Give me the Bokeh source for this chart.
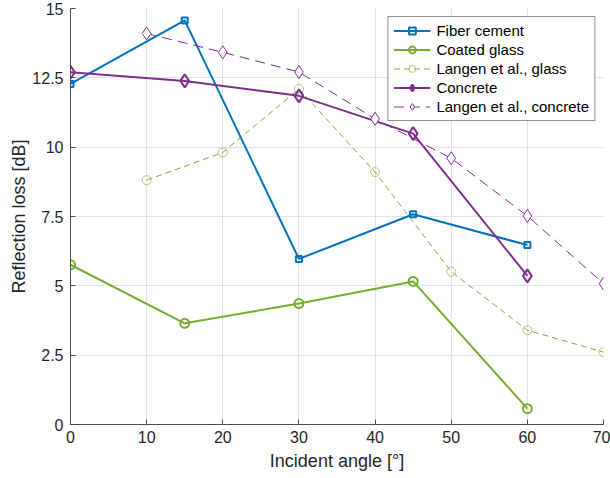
from bokeh.plotting import figure
from bokeh.models import Legend, LegendItem, FixedTicker, Range1d
from bokeh.embed import file_html
from bokeh.resources import INLINE

# Data
fiber_x = [0, 15, 30, 45, 60]
fiber_y = [12.28, 14.57, 5.97, 7.58, 6.47]

coated_x = [0, 15, 30, 45, 60]
coated_y = [5.76, 3.65, 4.36, 5.16, 0.57]

langen_glass_x = [10, 20, 30, 40, 50, 60, 70]
langen_glass_y = [8.81, 9.81, 12.1, 9.1, 5.51, 3.4, 2.61]

concrete_x = [0, 15, 30, 45, 60]
concrete_y = [12.7, 12.39, 11.85, 10.49, 5.36]

langen_conc_x = [10, 20, 30, 40, 50, 60, 70]
langen_conc_y = [14.1, 13.42, 12.71, 11.02, 9.6, 7.52, 5.08]

x_ticks = [0, 10, 20, 30, 40, 50, 60, 70]
y_ticks = [0, 2.5, 5, 7.5, 10, 12.5, 15]
y_tick_labels = {0: "0", 2.5: "2.5", 5: "5", 7.5: "7.5", 10: "10", 12.5: "12.5", 15: "15"}

BLUE = "#0072BD"
GREEN = "#77AC30"
PURPLE = "#7E2F8E"
FONT = "Liberation Sans"
TXT = "#262626"

p = figure(width=610, height=478, output_backend="svg", toolbar_location=None,
           x_range=Range1d(0, 70), y_range=Range1d(0, 15),
           min_border_left=70, min_border_right=7, min_border_top=8, min_border_bottom=54)
p.outline_line_color = None
p.background_fill_color = "white"
p.border_fill_color = "white"

for ax in (p.xaxis, p.yaxis):
    ax.major_tick_in = 5
    ax.major_tick_out = 0
    ax.minor_tick_line_color = None
    ax.axis_line_color = "#4d4d4d"
    ax.major_tick_line_color = "#4d4d4d"
    ax.major_label_text_font = FONT
    ax.major_label_text_font_size = "16px"
    ax.major_label_text_color = TXT
    ax.axis_label_text_font = FONT
    ax.axis_label_text_font_size = "18px"
    ax.axis_label_text_font_style = "normal"
    ax.axis_label_text_color = TXT

p.xaxis.ticker = FixedTicker(ticks=x_ticks)
p.yaxis.ticker = FixedTicker(ticks=y_ticks)
p.yaxis.major_label_overrides = y_tick_labels
p.xaxis.axis_label = "Incident angle [°]"
p.yaxis.axis_label = "Reflection loss [dB]"
p.xaxis.major_label_standoff = 6
p.yaxis.major_label_standoff = 7
p.xaxis.axis_label_standoff = 5
p.yaxis.axis_label_standoff = 0

p.xgrid.ticker = FixedTicker(ticks=x_ticks)
p.ygrid.ticker = FixedTicker(ticks=y_ticks)
p.grid.grid_line_color = "#e3e3e3"
p.grid.grid_line_width = 1

items = []

l1 = p.line(fiber_x, fiber_y, line_color=BLUE, line_width=2)
m1 = p.scatter(fiber_x, fiber_y, marker="square", size=6, line_color=BLUE, fill_color=None, line_width=2)
items.append(LegendItem(label="Fiber cement", renderers=[l1, m1]))

l2 = p.line(coated_x, coated_y, line_color=GREEN, line_width=2)
m2 = p.scatter(coated_x, coated_y, marker="circle", size=9, line_color=GREEN, fill_color=None, line_width=2)
items.append(LegendItem(label="Coated glass", renderers=[l2, m2]))

l3 = p.line(langen_glass_x, langen_glass_y, line_color=GREEN, line_width=1, line_dash="6 4")
m3 = p.scatter(langen_glass_x, langen_glass_y, marker="circle", size=9, line_color=GREEN,
               line_alpha=0.6, fill_color=None, line_width=1)
items.append(LegendItem(label="Langen et al., glass", renderers=[l3, m3]))

l4 = p.line(concrete_x, concrete_y, line_color=PURPLE, line_width=2)
m4 = p.scatter(concrete_x, concrete_y, marker="diamond", size=13, line_color=PURPLE, fill_color=None, line_width=2)
items.append(LegendItem(label="Concrete", renderers=[l4, m4]))

l5 = p.line(langen_conc_x, langen_conc_y, line_color=PURPLE, line_width=1, line_dash="10 6")
m5 = p.scatter(langen_conc_x, langen_conc_y, marker="diamond", size=13, line_color=PURPLE,
               fill_color="white", line_width=1)
items.append(LegendItem(label="Langen et al., concrete", renderers=[l5, m5]))

legend = Legend(items=items, location="top_right")
legend.label_text_font = FONT
legend.label_text_font_size = "15px"
legend.label_text_color = "black"
legend.glyph_width = 37
legend.glyph_height = 17
legend.label_height = 17
legend.spacing = 2
legend.padding = 5
legend.margin = 8
legend.label_standoff = 6
legend.border_line_color = "#262626"
legend.border_line_width = 1
legend.background_fill_alpha = 1
p.add_layout(legend)

open("out.html", "w").write(file_html(p, INLINE))
